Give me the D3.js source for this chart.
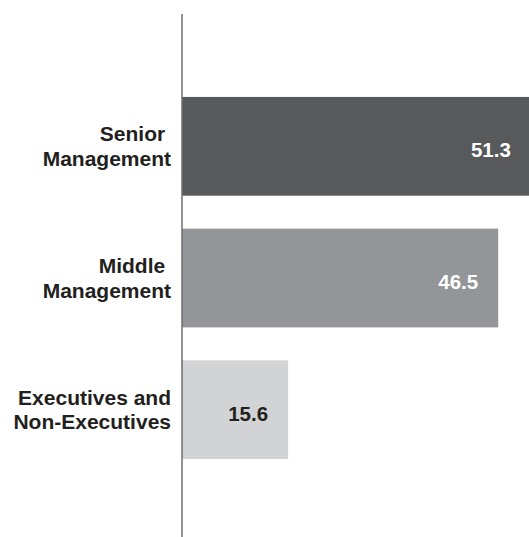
<!DOCTYPE html>
<html>
<head>
<meta charset="utf-8">
<script src="https://cdn.jsdelivr.net/npm/d3@7"></script>
<style>
  body { margin: 0; background: #fff; }
  text { font-family: "Liberation Sans", Arial, Helvetica, sans-serif; font-weight: bold; }
</style>
</head>
<body>
<figure id="bars" style="margin:0"></figure>
<script>
// chart data
const categories = ["Senior Management", "Middle Management", "Executives and Non-Executives"];
const labelLines = [["Senior ", "Management"], ["Middle ", "Management"], ["Executives and", "Non-Executives"]];
const values = [51.3, 46.5, 15.6];
const barColors = ["#58595b", "#939598", "#d1d3d4"];
const valueColors = ["#ffffff", "#ffffff", "#231f20"];

const width = 529;
const height = 537;

const svg = d3.select("figure#bars")
  .append("svg")
  .attr("width", width)
  .attr("height", height);

// x scale: 0 sits on the axis line
const x = d3.scaleLinear()
  .domain([0, 10])
  .range([182, 250]);

// y bands
const y = d3.scaleBand()
  .domain(categories)
  .range([64, 492])
  .paddingInner(0.25)
  .paddingOuter(0.25);

const rows = categories.map((c, i) => ({
  cat: c, value: values[i], lines: labelLines[i], fill: barColors[i], tc: valueColors[i]
}));

// bars
svg.append("g")
  .selectAll("rect")
  .data(rows)
  .enter()
  .append("rect")
  .attr("x", x(0))
  .attr("y", d => y(d.cat))
  .attr("width", d => x(d.value) - x(0))
  .attr("height", y.bandwidth())
  .attr("fill", d => d.fill);

// vertical axis line
svg.append("line")
  .attr("x1", x(0))
  .attr("x2", x(0))
  .attr("y1", 14)
  .attr("y2", height)
  .attr("stroke", "#6d6e71")
  .attr("stroke-width", 1.5);

// category labels
const labels = svg.append("g")
  .selectAll("text")
  .data(rows)
  .enter()
  .append("text")
  .attr("text-anchor", "end")
  .style("font-size", "21px")
  .style("fill", "#231f20")
  .style("white-space", "pre");

labels.selectAll("tspan")
  .data(d => d.lines.map((t, j) => ({ t, j, cy: y(d.cat) + y.bandwidth() / 2 })))
  .enter()
  .append("tspan")
  .attr("x", 171)
  .attr("y", d => d.cy - 5 + d.j * 24.5)
  .text(d => d.t);

// value labels
svg.append("g")
  .selectAll("text")
  .data(rows)
  .enter()
  .append("text")
  .attr("x", d => x(d.value) - 20)
  .attr("y", d => y(d.cat) + y.bandwidth() / 2 + 11)
  .attr("text-anchor", "end")
  .style("font-size", "20.5px")
  .style("fill", d => d.tc)
  .text(d => d.value.toFixed(1));
</script>
</body>
</html>
